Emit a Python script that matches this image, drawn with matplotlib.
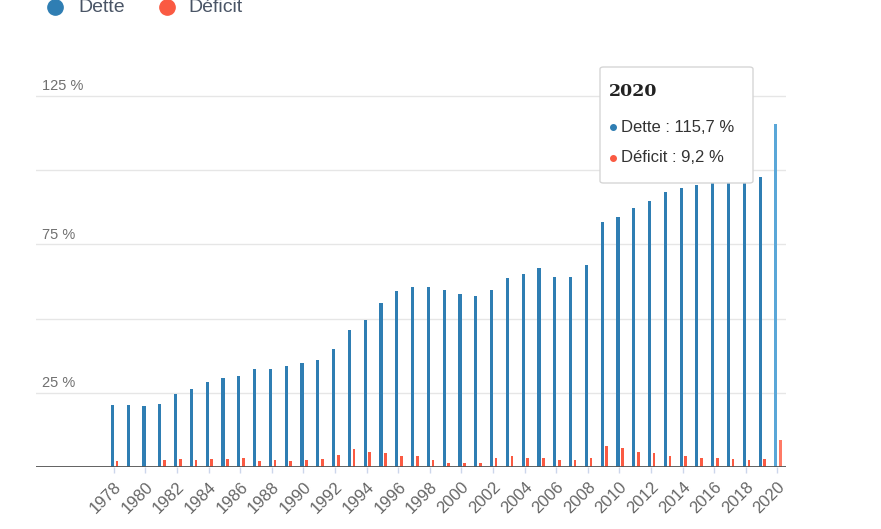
import matplotlib
matplotlib.use('Agg')
import matplotlib.pyplot as plt
from matplotlib.patches import FancyBboxPatch
from matplotlib.lines import Line2D

# Data (% of GDP)
years = list(range(1978, 2021))
dette = [20.9, 20.9, 20.4, 21.3, 24.7, 26.3, 28.6, 30.1, 30.6, 33.0,
         33.0, 34.0, 34.9, 35.9, 39.8, 46.2, 49.5, 55.4, 59.3, 60.6,
         60.6, 59.7, 58.3, 57.7, 59.7, 63.6, 65.0, 66.9, 64.1, 64.1,
         68.0, 82.5, 84.3, 87.3, 89.7, 92.7, 94.1, 95.1, 96.6, 98.1,
         98.0, 97.6, 115.7]
deficit = [1.9, 0.0, 0.0, 2.3, 2.8, 2.3, 2.8, 2.8, 3.2, 1.9,
           2.3, 1.9, 2.3, 2.8, 4.2, 6.1, 5.1, 4.7, 3.8, 3.8,
           2.3, 1.4, 1.4, 1.4, 3.2, 3.8, 3.2, 3.2, 2.3, 2.3,
           3.2, 7.0, 6.5, 5.1, 4.7, 3.8, 3.8, 3.2, 3.2, 2.8,
           2.3, 2.8, 9.2]
y_ticks = [0, 25, 50, 75, 100, 125]
y_labels = {25: '25 %', 75: '75 %', 125: '125 %'}
x_ticks = list(range(1978, 2021, 2))

blue = '#2f7eb3'
red = '#fa5a42'
W, H = 881, 529

fig = plt.figure(figsize=(W / 100, H / 100), dpi=100)
ax = fig.add_axes([36 / W, 1 - 467 / H, 750 / W, (467 - 81.2) / H])

# Bars: Dette slightly left of the tick, Déficit to the right
blue_cols = [blue] * (len(years) - 1) + ['#5aa7d8']
red_cols = [red] * (len(years) - 1) + ['#ff7a66']
ax.bar([y - 0.09 for y in years], dette, width=0.2, color=blue_cols, zorder=2)
ax.bar([y + 0.2 for y in years], deficit, width=0.17, color=red_cols, zorder=2)

ax.set_xlim(1973.07, 2020.55)
ax.set_ylim(0, 130)

# Grid and baseline
for v in y_ticks[1:]:
    ax.axhline(v, color='#e6e6e6', lw=1, zorder=1)
ax.axhline(0, color='#555555', lw=1.3, zorder=3)

for s in ax.spines.values():
    s.set_visible(False)
ax.set_yticks([])
for v, lab in y_labels.items():
    ax.text(6 / 750, v + 0.9, lab, transform=ax.get_yaxis_transform(),
            fontsize=10.5, color='#707070', family='Liberation Sans', va='bottom')

ax.set_xticks(x_ticks)
ax.set_xticklabels([str(x) for x in x_ticks], rotation=45, ha='right',
                   rotation_mode='anchor', fontsize=12, color='#666666',
                   family='Liberation Sans')
ax.tick_params(axis='x', length=4, color='#ccd6eb', width=1, pad=5)

# Legend at the top (circle markers + labels)
for cx, tx, col, lab in [(55, 78, blue, 'Dette'), (167, 188, red, 'Déficit')]:
    fig.add_artist(Line2D([cx / W], [1 - 7 / H], marker='o', markersize=11,
                          color=col, linestyle='none', transform=fig.transFigure))
    fig.text(tx / W, 1 - 7 / H, lab, color='#4a5566', fontsize=14,
             family='Liberation Sans', va='center')

# Tooltip box for 2020
box = FancyBboxPatch((600 / W, 1 - 183 / H), 153 / W, 116 / H,
                     boxstyle='round,pad=0,rounding_size=0.004',
                     transform=fig.transFigure, facecolor='white',
                     edgecolor='#d6d6d6', lw=1, zorder=10, clip_on=False)
fig.patches.append(box)
fig.text(609 / W, 1 - 92 / H, '2020', fontsize=12.5, fontweight='bold',
         family='DejaVu Serif', color='#222222', va='center', zorder=11)
for yy, col, lab in [(127, blue, 'Dette : 115,7 %'), (158, red, 'Déficit : 9,2 %')]:
    fig.add_artist(Line2D([613 / W], [1 - yy / H], marker='o', markersize=4,
                          color=col, linestyle='none', transform=fig.transFigure,
                          zorder=11))
    fig.text(621 / W, 1 - yy / H, lab, fontsize=12, color='#333333',
             family='Liberation Sans', va='center', zorder=11)

fig.savefig('out.png', dpi=100, facecolor='white')
